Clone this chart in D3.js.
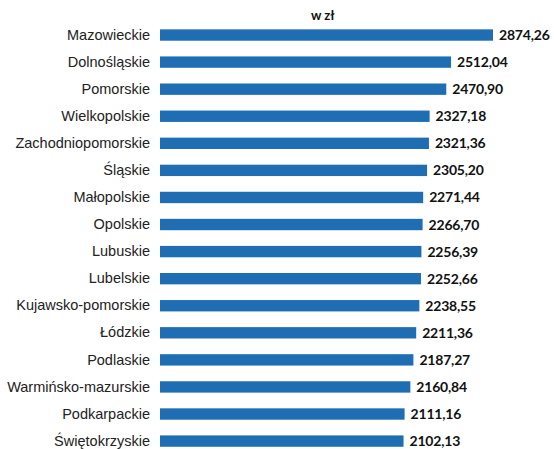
<!DOCTYPE html>
<html>
<head>
<meta charset="utf-8">
<script src="https://cdn.jsdelivr.net/npm/d3@7"></script>
<style>
  body { margin: 0; background: #fff; }
  svg { display: block; }
</style>
</head>
<body>
<svg id="chart" width="554" height="449"></svg>
<script>
const regions = [
  "Mazowieckie", "Dolnośląskie", "Pomorskie", "Wielkopolskie", "Zachodniopomorskie",
  "Śląskie", "Małopolskie", "Opolskie", "Lubuskie", "Lubelskie",
  "Kujawsko-pomorskie", "Łódzkie", "Podlaskie", "Warmińsko-mazurskie",
  "Podkarpackie", "Świętokrzyskie"
];
const values = [
  2874.26, 2512.04, 2470.90, 2327.18, 2321.36,
  2305.20, 2271.44, 2266.70, 2256.39, 2252.66,
  2238.55, 2211.36, 2187.27, 2160.84,
  2111.16, 2102.13
];
const unitLabel = "w zł";

const data = regions.map((r, i) => ({ region: r, value: values[i] }));

const svg = d3.select("#chart");
const left = 160;

const x = d3.scaleLinear().domain([0, 2874.26]).range([left, 493]);
const y = d3.scaleBand()
  .domain(regions)
  .range([21.5, 21.5 + 27.07 * regions.length])
  .paddingInner(0.58)
  .paddingOuter(0.29);

svg.append("text")
  .attr("x", 311)
  .attr("y", 20)
  .attr("font-family", "Lato, 'Open Sans', sans-serif")
  .attr("font-weight", "bold")
  .attr("font-size", 13)
  .attr("fill", "#111")
  .text(unitLabel);

const yAxis = d3.axisLeft(y).tickSize(0).tickPadding(10);
const ag = svg.append("g")
  .attr("transform", `translate(${left},0)`)
  .call(yAxis);
ag.select(".domain").remove();
ag.selectAll("text")
  .attr("font-family", "'Liberation Sans', Arial, sans-serif")
  .attr("font-size", 14.5)
  .attr("fill", "#222");

svg.append("g").selectAll("rect")
  .data(data)
  .join("rect")
  .attr("x", x(0))
  .attr("y", d => y(d.region))
  .attr("width", d => x(d.value) - x(0))
  .attr("height", y.bandwidth())
  .attr("fill", "#1f6eb4");

svg.append("g").selectAll("text")
  .data(data)
  .join("text")
  .attr("x", d => x(d.value) + 6)
  .attr("y", d => y(d.region) + y.bandwidth() / 2)
  .attr("dy", "0.36em")
  .attr("font-family", "Lato, 'Open Sans', sans-serif")
  .attr("font-weight", "bold")
  .attr("font-size", 14)
  .attr("letter-spacing", -0.2)
  .attr("fill", "#111")
  .text(d => d3.format(".2f")(d.value).replace(".", ","));
</script>
</body>
</html>
